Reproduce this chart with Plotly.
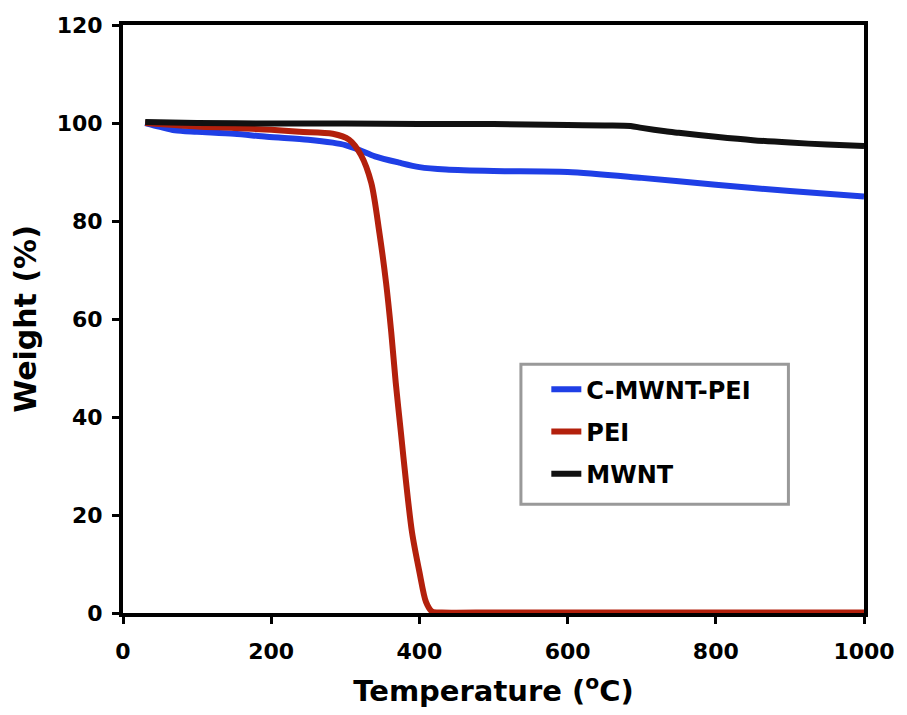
import plotly.graph_objects as go

# C-MWNT-PEI (blue)
t_cmwnt = [30, 50, 70, 100, 150, 194, 250, 283, 300, 319, 340, 373, 400, 436, 500, 600, 700, 800, 900, 1000]
w_cmwnt = [100, 99.2, 98.5, 98.2, 97.8, 97.2, 96.6, 96.0, 95.5, 94.5, 93.2, 91.9, 91.0, 90.5, 90.2, 90.0, 88.8, 87.4, 86.1, 85.0]

# PEI (red)
t_pei = [30, 100, 150, 200, 238, 283, 305, 321, 335, 346, 355, 362, 368, 375, 382, 390, 400, 409, 417, 430, 500, 600, 700, 800, 900, 1000]
w_pei = [100, 99.3, 99.0, 98.6, 98.2, 97.8, 96.6, 93.5, 87.8, 77.6, 67.4, 57.3, 47.1, 36.9, 26.7, 16.5, 8.4, 2.2, 0.3, 0.1, 0.1, 0.1, 0.1, 0.1, 0.1, 0.1]

# MWNT (black)
t_mwnt = [30, 100, 200, 300, 400, 500, 600, 650, 685, 700, 732, 750, 800, 850, 900, 950, 1000]
w_mwnt = [100.2, 100.0, 99.9, 99.9, 99.8, 99.8, 99.6, 99.5, 99.4, 99.0, 98.3, 98.0, 97.2, 96.5, 96.0, 95.6, 95.3]

x_ticks = [0, 200, 400, 600, 800, 1000]
y_ticks = [0, 20, 40, 60, 80, 100, 120]

FONT = "DejaVu Sans"

fig = go.Figure()
fig.add_trace(go.Scatter(x=t_cmwnt, y=w_cmwnt, mode="lines", name="<b>C-MWNT-PEI</b>",
                         legendgroup="a", line=dict(color="#1f3fe6", width=6, shape="spline", smoothing=0.8)))
fig.add_trace(go.Scatter(x=t_pei, y=w_pei, mode="lines", name="<b>PEI</b>",
                         legendgroup="b", line=dict(color="#b3200c", width=6, shape="spline", smoothing=0.8)))
fig.add_trace(go.Scatter(x=t_mwnt, y=w_mwnt, mode="lines", name="<b>MWNT</b>",
                         legendgroup="c", line=dict(color="#111111", width=6, shape="spline", smoothing=0.8)))

axis_common = dict(showline=True, linewidth=4, linecolor="black", mirror=True,
                   ticks="outside", ticklen=7, tickwidth=3, tickcolor="black",
                   showgrid=False, zeroline=False,
                   tickfont=dict(family=FONT, size=22, color="black"))

fig.update_xaxes(range=[0, 1000], tickvals=x_ticks, ticktext=[f"<b>{v}</b>" for v in x_ticks],
                 ticklabelstandoff=9,
                 title=dict(text="<b>Temperature (<sup>o</sup>C)</b>", standoff=18,
                            font=dict(family=FONT, size=29, color="black")),
                 **axis_common)
fig.update_yaxes(range=[0, 120], tickvals=y_ticks, ticktext=[f"<b>{v}</b>" for v in y_ticks],
                 ticklabelstandoff=5,
                 title=dict(text="<b>Weight (%)</b>", standoff=12,
                            font=dict(family=FONT, size=30, color="black")),
                 **axis_common)

# legend frame drawn as a box (paper coordinates)
fig.add_shape(type="rect", xref="paper", yref="paper",
              x0=0.537, x1=0.898, y0=0.185, y1=0.423,
              line=dict(color="#999999", width=3), fillcolor="white", layer="above")

fig.update_layout(
    width=907, height=715,
    margin=dict(l=123, r=41, t=25, b=101),
    paper_bgcolor="white", plot_bgcolor="white",
    font=dict(family=FONT, color="black"),
    legend=dict(x=0.547, y=0.418, xanchor="left", yanchor="top",
                bgcolor="rgba(0,0,0,0)", borderwidth=0,
                font=dict(family=FONT, size=24, color="black"),
                indentation=18,
                traceorder="grouped", tracegroupgap=8),
)

fig.write_html("out.html")
